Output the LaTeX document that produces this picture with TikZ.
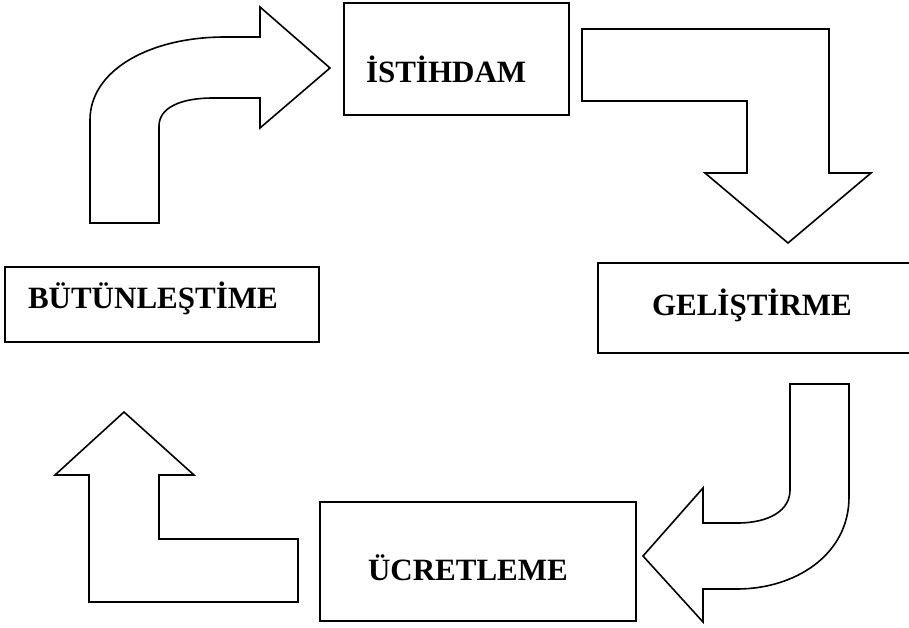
\documentclass[tikz,border=0pt]{standalone}
\usepackage{fontspec}
\setmainfont{Liberation Serif}
\begin{document}
\begin{tikzpicture}[x=1pt,y=-1pt,
  boxst/.style={draw=black,line width=1.6pt,rectangle,inner sep=0pt,outer sep=0pt},
  lbl/.style={inner sep=0pt,outer sep=0pt,font=\fontsize{31}{37}\selectfont\bfseries,anchor=base west},
  arrowshape/.style={draw=black,line width=1.6pt,line join=miter,fill=white}]
\useasboundingbox (0,0) rectangle (909,627);
\clip (0,0) rectangle (909,627);
% boxes
\node[boxst,minimum width=225pt,minimum height=112pt] (ist) at (456.5,59) {};
\node[boxst,minimum width=317pt,minimum height=90pt] (gel) at (756.5,308) {};
\node[boxst,minimum width=314pt,minimum height=75pt] (but) at (162,304.5) {};
\node[boxst,minimum width=316pt,minimum height=119pt] (ucr) at (478,561.5) {};
% labels
\node[lbl] (istT) at (366,82) {İSTİHDAM};
\node[lbl] (gelT) at (652,315) {GELİŞTİRME};
\node[lbl] (butT) at (28,308) {BÜTÜNLEŞTİME};
\node[lbl] (ucrT) at (368,580) {ÜCRETLEME};
% top-left curved arrow
\draw[arrowshape] (90,223) -- (90,120) .. controls (90,70) and (150,37) .. (225,37)
  -- (260,37) -- (260,7) -- (330,68) -- (260,128) -- (260,98) -- (213,98)
  .. controls (180,98) and (159,108) .. (159,126) -- (159,223) -- cycle;
% top-right bent arrow
\draw[arrowshape] (582,29) -- (829,29) -- (829,173) -- (871,173) -- (788,243)
  -- (705,173) -- (747,173) -- (747,101) -- (582,101) -- cycle;
% bottom-right curved arrow
\draw[arrowshape] (790,384) -- (849,384) -- (849,497) .. controls (849,555) and (795,589) .. (737,589)
  -- (703,589) -- (703,622) -- (643,556) -- (703,488) -- (703,523) -- (737,523)
  .. controls (770,523) and (790,510) .. (790,490) -- cycle;
% bottom-left L arrow
\draw[arrowshape] (124,412) -- (194,475) -- (159,475) -- (159,539) -- (298,539)
  -- (298,602) -- (89,602) -- (89,475) -- (55,475) -- cycle;
\end{tikzpicture}
\end{document}
